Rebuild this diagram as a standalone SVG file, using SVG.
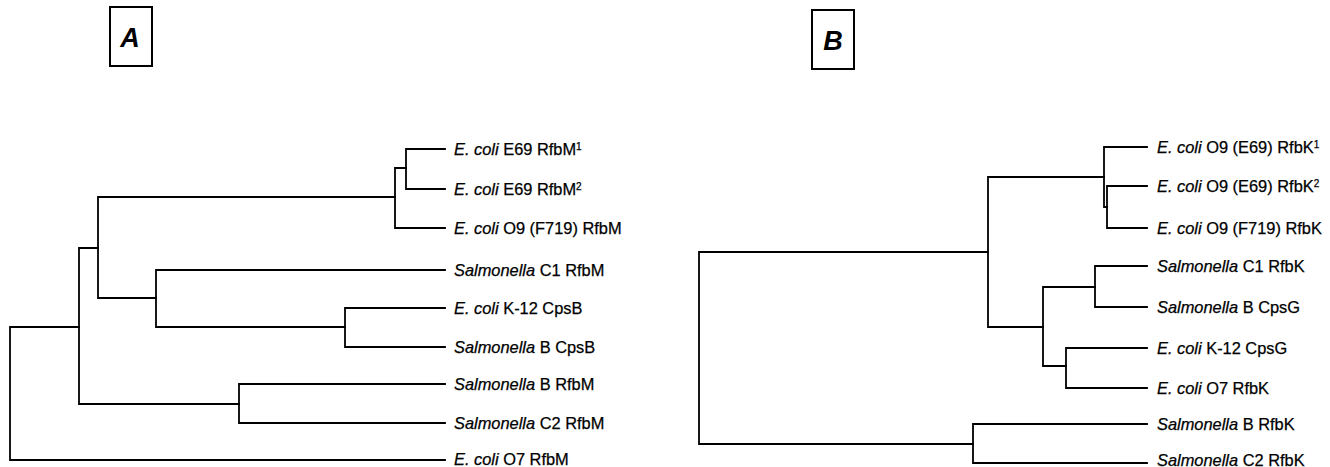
<svg xmlns="http://www.w3.org/2000/svg" width="1330" height="467" viewBox="0 0 1330 467">
<style>
.ln{fill:none;stroke:#000;stroke-width:1.8;stroke-linejoin:miter;stroke-linecap:square}
.box{fill:#fff;stroke:#000;stroke-width:2}
.lbl{font-family:"Liberation Sans",Arial,sans-serif;font-size:16.4px;fill:#000;stroke:#000;stroke-width:0.25}
.it{font-style:italic}
.sup{font-size:10px}
.big{font-family:"Liberation Sans",Arial,sans-serif;font-size:27px;font-style:italic;font-weight:bold;fill:#000;text-anchor:middle}
</style>
<rect width="1330" height="467" fill="#fff"/>
<g id="panelA">
<rect class="box" x="110" y="7" width="42" height="59"/>
<text class="big" x="130" y="47">A</text>
</g>
<g id="panelB">
<rect class="box" x="812" y="10" width="42" height="59"/>
<text class="big" x="833" y="50">B</text>
</g>
<g id="connectors">
<path class="ln" d="M445,149 H406 V189 H445"/>
<path class="ln" d="M445,228 H395 V168 H406"/>
<path class="ln" d="M395,197 H98 V298 H156"/>
<path class="ln" d="M445,270 H156 V327 H345"/>
<path class="ln" d="M445,308 H345 V347 H445"/>
<path class="ln" d="M98,248 H79 V404 H239"/>
<path class="ln" d="M445,384 H239 V423 H445"/>
<path class="ln" d="M79,327 H10 V460 H445"/>
<path class="ln" d="M1147,147 H1104 V207 H1107"/>
<path class="ln" d="M1147,186 H1107 V228 H1147"/>
<path class="ln" d="M1104,177 H988 V327 H1043"/>
<path class="ln" d="M988,252 H699 V444 H973"/>
<path class="ln" d="M1147,266 H1095 V307 H1147"/>
<path class="ln" d="M1095,287 H1043 V366 H1066"/>
<path class="ln" d="M1147,348 H1066 V388 H1147"/>
<path class="ln" d="M1147,424 H973 V463 H1147"/>
</g>
<g id="a1"><text class="lbl" x="454" y="155"><tspan class="it">E. coli</tspan> E69 RfbM<tspan class="sup" dy="-5">1</tspan></text></g>
<g id="a2"><text class="lbl" x="454" y="195"><tspan class="it">E. coli</tspan> E69 RfbM<tspan class="sup" dy="-5">2</tspan></text></g>
<g id="a3"><text class="lbl" x="454" y="234"><tspan class="it">E. coli</tspan> O9 (F719) RfbM</text></g>
<g id="a4"><text class="lbl" x="454" y="276"><tspan class="it">Salmonella</tspan> C1 RfbM</text></g>
<g id="a5"><text class="lbl" x="454" y="314"><tspan class="it">E. coli</tspan> K-12 CpsB</text></g>
<g id="a6"><text class="lbl" x="454" y="353"><tspan class="it">Salmonella</tspan> B CpsB</text></g>
<g id="a7"><text class="lbl" x="454" y="390"><tspan class="it">Salmonella</tspan> B RfbM</text></g>
<g id="a8"><text class="lbl" x="454" y="429"><tspan class="it">Salmonella</tspan> C2 RfbM</text></g>
<g id="a9"><text class="lbl" x="454" y="465"><tspan class="it">E. coli</tspan> O7 RfbM</text></g>
<g id="b1"><text class="lbl" x="1157" y="153"><tspan class="it">E. coli</tspan> O9 (E69) RfbK<tspan class="sup" dy="-5">1</tspan></text></g>
<g id="b2"><text class="lbl" x="1157" y="192"><tspan class="it">E. coli</tspan> O9 (E69) RfbK<tspan class="sup" dy="-5">2</tspan></text></g>
<g id="b3"><text class="lbl" x="1157" y="234"><tspan class="it">E. coli</tspan> O9 (F719) RfbK</text></g>
<g id="b4"><text class="lbl" x="1157" y="272"><tspan class="it">Salmonella</tspan> C1 RfbK</text></g>
<g id="b5"><text class="lbl" x="1157" y="313"><tspan class="it">Salmonella</tspan> B CpsG</text></g>
<g id="b6"><text class="lbl" x="1157" y="354"><tspan class="it">E. coli</tspan> K-12 CpsG</text></g>
<g id="b7"><text class="lbl" x="1157" y="394"><tspan class="it">E. coli</tspan> O7 RfbK</text></g>
<g id="b8"><text class="lbl" x="1157" y="430"><tspan class="it">Salmonella</tspan> B RfbK</text></g>
<g id="b9"><text class="lbl" x="1157" y="466"><tspan class="it">Salmonella</tspan> C2 RfbK</text></g>
</svg>
